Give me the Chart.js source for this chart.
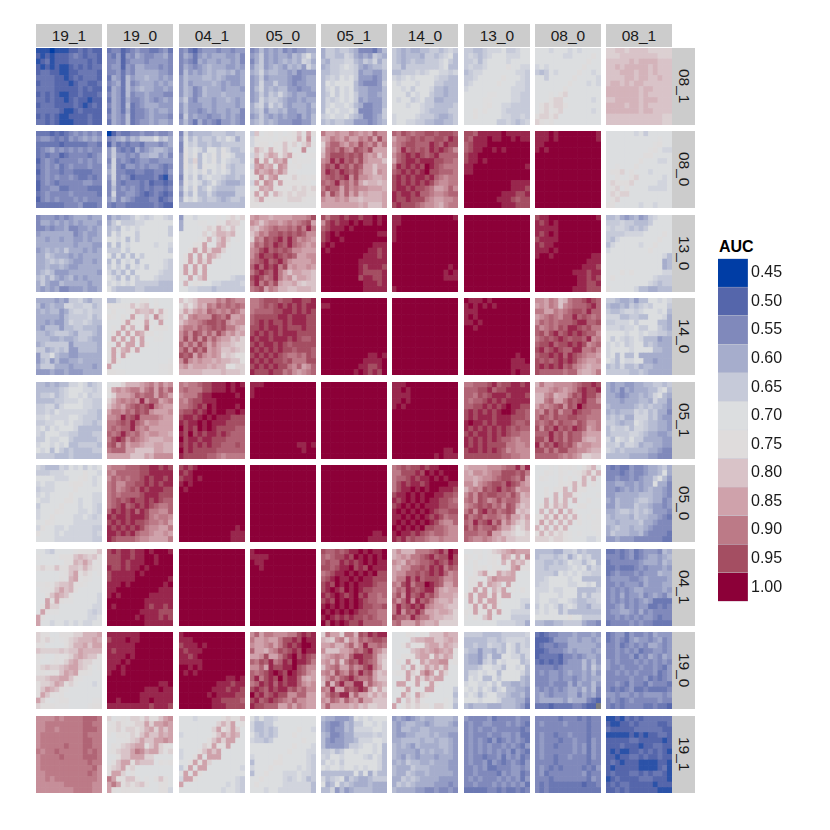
<!DOCTYPE html>
<html>
<head>
<meta charset="utf-8">
<script src="https://cdn.jsdelivr.net/npm/chart.js@4"></script>
<style>
  body { margin: 0; background: #fff; font-family: "Liberation Sans", sans-serif; }
  canvas { position: absolute; }
  .strip { position: absolute; background: #ccc; color: #1a1a1a; font-size: 15.5px; display: flex; align-items: center; justify-content: center; }
  .right { writing-mode: vertical-rl; }
  #auc { position: absolute; left: 719px; top: 238px; font-size: 16px; font-weight: bold; }
</style>
</head>
<body>
<div id="auc">AUC</div>
<script>
// column and row names of the facets
const columnNames = ['19_1', '19_0', '04_1', '05_0', '05_1', '14_0', '13_0', '08_0', '08_1'];
const rowNames = ['08_1', '08_0', '13_0', '14_0', '05_1', '05_0', '04_1', '19_0', '19_1'];
const legendBreaks = ['0.45', '0.50', '0.55', '0.60', '0.65', '0.70', '0.75', '0.80', '0.85', '0.90', '0.95', '1.00'];
const legendColors = ['#003da5', '#5566ab', '#8089bb', '#a6adcc', '#c6cad9', '#dcdee0', '#dfdcdc', '#d9c3c8', '#cfa2ab', '#bc7a87', '#a44e62', '#8c0038'];

// one letter per cell, top row first: a = 0.45, b = 0.475 ... w = 1.00, . = missing
const row_08_1 = [
"bbbabbbccdcdcc cbcbcccdedcddc bcdbcccddddcdc cbcbcbbcdcdcdd cddccbbccddddc ddddccbcdcdddc cdddcccbcddccd ddddcccccdcdcc cdcdcbbccdcccd ddcdccbcdccbcc cdddccccdcbcdc dddddcbbcdcccc cdcdcbbccccdcc ddcdcbbbcccdcc",
"deecdefeeddefd edfcfegfeeffge eefcefffeffffe effcfeggfffefe eefdfegggggffe dgfdhfgghggfgf efgdhefgggfgfg dgfdhfghggffgf egfdheffgfffee dgfdgeefgfefgf egfdhdefgggfff dgfdgdeefgfggf egfehdeefgfffe dgfehdeffgfggf",
"efdcefffeffeff egfdfgfgggffge efedgfggfggfge egfefghgggffgf ehfgfghghhghfg fhggghhghgfffg fhfgggghgfgffg fhgefhgggfgggf fhgefhggghgggg gifegggfgghgfg fhfffggfggggfg fhffefgfggfgge eifgffeffgfgfe fhfdgefedffgfe",
"efhfgfgefeffgg fgifgfggfhgikh egifgfghghgjig fhifghgfhghfjh ghjghhggfgefff fgifggggfeefgg fgjggiggfeffgg fhjghghhffeffg fgigihjhgfggff fgjhiihgffgfgg gijgjhigfgggfh ghifhhghffggfg fgigfgfgffegfh ghighgfffeeffh",
"giihiihgeeedfh giihhjigfgfihg hgiiijjhgihjgi ghiijkjigfghhi hhiijjjifggffh hijikjkifffefh hkjkkkkhfeeefi hjkikjkhggfffh hikikjkiggffgh hjijkjkifgfffh hjkjjkjhgeeffh hkjkjjkieeeffi ijkjjkihgeefgi hihiihhfffefgh",
"ihghgghhiihiji ihghhhgiihijkh ihghihhiiijkih iigiiiiiiijkhh hhiiijijkkjjij jijkjkkkkjiihh kjkkkjkkkiihhh kkjkikkkjhhghh kkkikjkkihhghh kjkkijkiigghhh kkkjkkjiihhhhi kkkkkkjihhhhii jkkkkjiiihgghi jkkjjiihhgghhi",
"iihhijjjkiijkk ijihijkkkjjjkk iijhjkkkkjkkkk ijiijkkkkmkkjj hijjkkkkkkkjji iijkkkkkmkkkji ijkkkkkmkkkjji jkkkkkkkkkjjji kkkkkllkkkjjii kkkkllkkkkjjii kkkklmkkjjiiii kkmkmkkkjiiiii kkmkkkkkjjiiji kkkkkkkiijihij",
"kkkjkkkjkjkkkk kkkkkkjjkkkkmk kkkkkkkkkkkmkk jkjkkkkkkkmkkk ihikjkkkkmkkjk kkikkkkkmkkkkj kkkkkkkmkkkjkj kkkkkkmkkkkkkk kkklkmnkkkkkkk kkkmnnkkkkkkjk kmnmnnmkkkkkkk kmnlmnkkkkkkjk mnnmnkkkkkkkkk nmlmkkkkkkkkkk",
"nnoonoooonnnnn nnnoooooooonnn ooooopoppppooo oopopppppopooo ooopppoppopooo ooooppoppoopoo oppopoppoooooo pppppppoppoooo pppppppopooooo oopppppopppooo ppppoppopooooo pppppppoppoooo oooooooooooonn oooooooooooonn"
];
const row_08_0 = [
"dddcdcdefefefe effededfefgfgf dddddcdddddeed defgefefefefee dedeecdeeeedef cefedeeeefefef defefdefeeefee cefeedeeddddee defefeefeddede cefedeeeeeffee ceeffddeeeeddd defeeeefeeeeed cefefeeefefeee ddddddeeefddde",
"aceddeefeefeef efghfhgiiikhig cfdedeedfffefg fiededgefghhgf fiffefegghhfge ejefedeffeefff fjedffefeffede gjeeddeeddeedf fjefecddddecbe eiedeeedecddcd ehefefededeede ejeeffedcdedcd fhegfedddeecde edeeddddddedcc",
"ejghhhhiiihhii fkhjhiihjikjgi ekijhhihhiiiii eljkjhkkiljhhi fmjlhkjlilkjhh fminhkjlikjiih fmjmhlkkjlihii fkjkjlikjkjhii ekikhjkjjihhih fljkjhikihgggh gkilhikihhhhii fjhkhhjhggggii gkjkihiihghiih hhhhhhhhhhhhhh",
"ioklmklklmolqm jmlllklmlmpmrk jlmmkmlolnknpl kpnlpmlomklrkk joloqpmoqmlkll krmqlqprkmlllk jqrpqlrqllmkkk krpqrprpllkkkk kmrnqrlmlnlmlm jqmrqmqmmmmllk kmqpqmlmlnmnmn lqmqlpnmnmnnmm mnqmmmmlnnnmll mmllllllllllll",
"sqqrqqsrqrqtrr pqsrqsqqsrtqur nrttrqsrusrtqs ostsusrutsuqqq psuuututurqroq rsvtvtusurqqqo sutvtusutqqoqq svutvutusqqorq stutuvrurrqppq tstvstrtqoppop suttqtrsrrqqqp tqusqtqspqpppq rqqrqrppoppppq qqqqqqqqpqoooq",
"tsutsttuutuuut qsstututtuutvu rstuutttvutvuu qsvtututvuvutr rtuvuvutuvtttt qtuvvuvvvuutts svuvuvuwvutsss tuvuvuvwuuttts uvuvuvvuvtsrss uvuvuvuvusrrss uvvuvuutsqqrtr vuvvuvttsrrstt vuuvuuusrqqrrs uvuuutsrrqprss",
"uutvvvvvwvvvvv utvvvwvvwwvwvv tuvvvwwwwwwwww tuvvwwvwvwwwww uvvwwwwwwwwwww uvvwvwwwwwwwww vvwwwwwwwwwwwv vvwwwwwwwwwwww wwwwwwwwwwwwww wwwwwwwwwwvvvv wwwwwwwwwwvvvu wwwwwwwwvvvuuv wwwwwwwvvvutuu wwwwwwwwvvvuuu",
"vvvwvwwwwwwwwv vvvwvwwwwwwwwv vvwwwwwwwwwwww vwvwwwwwwwwwww wwwwwwwwwwwwww wwwwwwwwwwwwww wwwwwwwwwwwwww wwwwwwwwwwwwww wwwwwwwwwwwwww wwwwwwwwwwwwww wwwwwwwwwwwwww wwwwwwwwwwwwww wwwwwwwwwwwwww wwwwwwwwwwwwww",
"kkkkkkjkikkkkk kkkkkkkkkkklkk kkkkkkkkkklmkk kkkkkkkkklmkjj kkkkkkkkmmkkkk kkkkkkkmkkkjjk kklkkkmkkkkkkk kmmnkmkkkjkkkk kkmkkmnkkkkkjk knmmmnkkkkkjjk kmnkmkkkkjjjjk knmnnkkkkkkkkk kmnkkkkkkkkkkk mmkkkkkjkkjkkk"
];
const row_13_0 = [
"efffefefgggfgg eggfgfgfgfgggf eefeffgeeffgfg fgggggggefgffg ggfggfggffgfgg ggggggggfgggff fghghgigggfgfg ggihgggfgfgggg gghihihgffggfg gghgghgffggggg ghihfffggggggf higigfghfgfggg gigffhgggggfgg gfgfgeefffgffg",
"fhghhikjijkkji gikiiijjkkkkkk hihkjkjkkkkkki hkikkkikkkkkki kkjkhkikkkkkkk hkhkjkkkkkjkkj iiikikkkkkkkki khkhkhkikkkkkk hkhkjkhkkkkkji ikikhkjkikkkji jhjhkhkkkkkjii kjhkhkikkkjiii jkjkjkiiiiihhh kihhhhiihhhhhh",
"fkkjkkkklkmnln gkkkllkkmlonnk gkkkklnmpnlolk kkkkknknppoplk kkkklmpkoqnklk kkkmmqkkpqmkkk kkmqmqnqqnkkkk kmqkqmqpnkkkkk kmqmqnqlkkkkkk kqkqmqkkkkkkkk lqmqlqkkkkkkkk mkqkoqkkkkkjii kpkmlkkjjiiiij kkjjiiihiiiiii",
"qrqqpqqqqrrrsu rqoqrrqrsrstuq poqrstsstsusvs oqsrttutututrr nsrutuvtvtrsrq qtsutvutvtsrqr rsuvtututrrqqq rtvuuvututqqrr stuvtuvtrqqqqr tvtvuvsuqrqqrq suvutvsqoqqppo uvustvsqroqqpo tvsusuqppqonoo stuqsrppoopppo",
"usuuvuvvuvvwvw ruvuvvwvwvvwvw tuvvvwvwwwwwww uvwvwwwwwwwwvv uvwwvwwwwwwwww vwvwwwwwwwwvvv wvwwwwwwwwvvuv wwwwwwwwwvvvuv wwwwwwwwvvvvvv wwwwwwwwvuvvvu wwwwwwwwvuuuuv wwwwwwwwuvvuuv wwwwwwwwwvvvuv wwwwwwwwwvvvvv",
"vvwwwwwwwwwwwv vvwwwwwwwwwwww vwwwwwwwwwwwww vwwwwwwwwwwwww vwwwwwwwwwwwww wwwwwwwwwwwwww wwwwwwwwwwwwww wwwwwwwwwwwwww wwwwwwwwwwwwww wwwwwwwwwwwwvw wwwwwwwwwwwvwv wwwwwwwwwwwvvv wwwwwwwwwwwwww vwwwwwwwwwwwww",
"wwwwwwwwwwwwww wwwwwwwwwwwwww wwwwwwwwwwwwww wwwwwwwwwwwwww wwwwwwwwwwwwww wwwwwwwwwwwwww wwwwwwwwwwwwww wwwwwwwwwwwwww wwwwwwwwwwwwww wwwwwwwwwwwwww wwwwwwwwwwwwww wwwwwwwwwwwwww wwwwwwwwwwwwww wwwwwwwwwwwwww",
"uvvwwwwwwwwwwv vuvwvwwwwwwwww vvvvvwwwwwwwww vuvwvwwwwwwwww uvvvvwwwwwwwww vuvvwwwwwwwwww vvvwvwwwwwwwww vwwvwwwwwwwwvv wwwwwwwwwwwvvv wwwwwwwwwwvvvu wwwwwwwwvvvuvv wwwwwwwwwvvuvu wwwwwwwwwvvuuv wwwwwwwwvvvuuu",
"hhigfghfgijkkk iiijiihhhikkkk jijjihihikkkkk iiiijjjjkkkkmk ihjkkkkkkkkmkk hjkkkkkjkkmkkk jkkkkkkkkmkkkk kkkkkkkkkkkkjh kkkkkkkkkkkkgh kkkkkkkkkkkkgh kkkmkmkkkkkkjj kmkkkkkkkkjiii kkkkkkkkkjihii mkkkkkjhhgghhh"
];
const row_14_0 = [
"ggggfgfiijhgii hfghggjjiijjhi ghghhfgijjijii gggggfhiiiijhi ggfgffhjiijihh gfhhhfhhiihhhg hhghiiihgiiihg hhhgghgghiihgg ghiiiiifhhhhhg iighihiffhhhhg fiikhggffggggg fhifhffgghgggg giiigggfggggfg fffgffgfffgggg",
"hhjkkkkmmklkkk mllllomnokmkkk kmkklmpoopmpmk mlkmkqmkokrnmk kkkmqmlmqmkqkk klkqmpkmrkmmmk kmqkqmqpmmklkk kqmqkqmqkkllkk mkqmqqkqmkkkkk lqmpqmqkkkkkkk lqkqmkkkkkkkkk mqmkkkkkkkkkkl qkkkkkkkkkkllm mmllkkkkkkkllm",
"omnoqqqqsrtsrr momoqpsrtststs nqoqrqtsrsrtsq pnrsrrrutsuqqr oqrrstuuturqrr qssrtstutussqp rtrutrtrusqrpq rurururtrqqopn trtrusqsqpponn surusuqrqoopon utuqtrqrqnonmm rurqrqqpqppoom qrpqqqpqppmlnn pppppoooopooon",
"sstuuutuuvvuuv sstutuvuvuvuvv sttttuuvvuvuvu tuuuuuvvuvvvuu tuvuvuuvuvvvuu uuvuvvuvuuuvuu uvuvuvuvvvuuuu vuvvuvvvuvuttu uvuvvuvutuuuuu vuvuvuvuutuuut uvuvuvutsstsut vuvuvuutusssuu uvuvuvuusrtqrt vuuuvuustrqrst",
"wwwwwwwwwwwwww vvwwwwwwwwwwww wwwwwwwwwwwwww wwwwwwwwwwwwww wwwwwwwwwwwwww wwwwwwwwwwwwww wwwwwwwwwwwwww wwwwwwwwwwwwww wwwwwwwwwwwwww wwwwwwwwwwwwww wwwwwwwwwwvvwv wwwwwwwwwvvvvw wwwwwwwwvvuuvw wwwwwwwvwvuvuw",
"wwwwwwwwwwwwww wwwwwwwwwwwwww wwwwwwwwwwwwww wwwwwwwwwwwwww wwwwwwwwwwwwww wwwwwwwwwwwwww wwwwwwwwwwwwww wwwwwwwwwwwwww wwwwwwwwwwwwww wwwwwwwwwwwwww wwwwwwwwwwwwww wwwwwwwwwwwwww wwwwwwwwwwwwww wwwwwwwwwwwwww",
"wvvvwvwwwwwwww vwvwvwvwwwwwww vvvwwwwwwwwwww vwvwwwwwwwwwww vvwvwwwwwwwwww wwvwwwwwwwwwww wwwwwwwwwwwwww wwwwwwwwwwwwww wwwwwwwwwwwwww wwwwwwwwwwwwww wwwwwwwwwwwvww wwwwwwwwwwvvvw wwwwwwwwwwvvvv wwwwwwwwwwvwvv",
"rrqsropsttuvut qrqsrorstttuvt ssqqsrstuutvtt qrstsrttvtutst rtststttuvvttu trstsutvvutuss tusuvtuvuvuttr stutuvutuutvrs tuuvtuuvuvurst uvtuvuttvvsstr tuuvuvtvutsrrq ututuvuvusrqqr uvuvuvtusrqpqq utttttsttqppqs",
"iihgghfhhkkjkj hgghgihijikkki ihhijjijkkkjkh jjjhhiihhkkkjg iijjjkikkkkhhg jjjijjkiikkihg kkkkjkkjkjjiih kikjijkjhhhfgg jkjkijkkhihggg jkkkkjkkkkhhgg jkhkhhkggggggg kjhkjjkkggfggg hihjhhighhgggg iiiiihhihggggg"
];
const row_05_1 = [
"hhghghhjjkjhij hhhhhijkkkjjij hiijhijkkjkijj hhhhiijjjkjjii iijjhjkkkkjjii iijikjjjjjjiih jjkjjjjkkjiiih iijjkkjkjjiihi jkikjkkkjhhhhh jikkkjjiihhhii iikjjkkihhhhhi jkkjkjkhhiiiih kjkhkihihhhhii iiiihhhihhhhhh",
"kllnpppqrsqsqr mqrqrssqstqtrt lnqqqrtsttqtsq nprsrsrvrttqrs oqrqstutuvsrqq qssrtsuturqqqr rrsvtuvssssrqq sstutvtsqrrqqq ststtvsrsqqqqq tstvtstrqrrqqp suvurtsrqpppqq turtqrrqppqqpp stttqqooooqqpp qqqqqoooqprrrr",
"srsstuuvvvwvwv stsssuuvvvwvww rsssuvvwwwwwvw srtuuvvvwwwwww sstuvuwvwwwwvw tuuvuvwvwwvvwv uvvuvwvwvvvuuu vuvvwvwvvvuuuu wuvuwvwvuuuutt vuwuvuvvuvuttt wuvvuvvuuutttt vuvuvuvuutttut wuvuuuuutttttt vuuuuuttsrssss",
"vvvwwwwwwwwwww vwwwwwwwwwwwww vwwwwwwwwwwwww wwwwwwwwwwwwww wwwwwwwwwwwwww wwwwwwwwwwwwww wwwwwwwwwwwwww wwwwwwwwwwwwww wwwwwwwwwwwwww wwwwwwwwwwwwww wwwwwwwwwwwwww wwwwwwwwwwvvwv wwwwwwwwwwwvww wwwwwwwwwwwwww",
"wwwwwwwwwwwwww wwwwwwwwwwwwww wwwwwwwwwwwwww wwwwwwwwwwwwww wwwwwwwwwwwwww wwwwwwwwwwwwww wwwwwwwwwwwwww wwwwwwwwwwwwww wwwwwwwwwwwwww wwwwwwwwwwwwww wwwwwwwwwwwwww wwwwwwwwwwwwww wwwwwwwwwwwwww wwwwwwwwwwwwww",
"vvvwwwwwwwwwww vvwvwwwwwwwwww vvvvwwwwwwwwww vvwvwwwwwwwwww vwvwwwwwwwwwww wwwwwwwwwwwwww wwwwwwwwwwwwww wwwwwwwwwwwwww wwwwwwwwwwwwww wwwwwwwwwwwwww wwwwwwwwwwwwww wwwwwwwwwwwwww wwwwwwwwwwwvvw wwwwwwwwwvwvvv",
"sstttuvtuuvvuv tttuuvtuuvvvvv ttsutuvvvuvvvu tsttuvuvuvvvvv ttuuvuvuvwvvuu uvuvuvuvwwvuut uvuvvvuvvvuuut vwvvuvuvvvuttu vuvuvuvuvututt uvuvvuvuvuttss vuvuvuvuttsrss vuvuvuuuussrrs uvvuvuvutrsrrr uuuuuuuuttssrr",
"psqqrrrrstuuvu qqqrsrqrsuvuuv pprspqqsutvuus ppstqqsutuvttr qsrsturutwuttt srusurttvuttss sutsuttuuttsss tstusuttsutrrs urutvtutvutqrs tttvtusuttrqqq uusvtusuttqppq vsutvutusqrrqq uususuussrrqpp tttttsrsrqnnoo",
"gfggffgghhiihi gfgegfggghhjkh ggfefgghghjkhg gggfggghhgjhhf hggggghihihhgf ghghhhjijhigge hihiggjjjhigff iihghhkjihhggf hjiijhjjihhggf hiiiijjihggffg jhkjikiiggggff iijhjjighhggff jihihhhhhggfee hhhhhggggffeee"
];
const row_05_0 = [
"jihhhjikjkikjk iiijjjkkkkmkkj kkkkjjjkklmkjk jkjjkkklmmkkjk ijjjkkkkmkkkkk jkjkkkkmkkkkjj kjjkkkmmkjkkjj ikkkkmkkkjkkji jkkkmlkkkjjkji jkkmkkkkjjkjij kkmlkkkkjjjjjj jmkkjjkjjjjjii mkkkjkjjjjjjij kkkkjjjjjjjjii",
"rssstttuuvvuvu srtttttuuvvvvv rtststtuvuvvuv strrttuuvuvuvv strstutvuvvvuu ststtttuvvvuuu stutuvuuvuvutt stuvtuvuvutsst tvuvuvtvussrrt vuvvuvvvusrssr uvuvuvuutssrsq vuvuvuvusrrqqs vvuvuvtssrqqrq vuttttsrrqqqqs",
"uvuvwwwwwwwwww vuvwwwwwwwwwww uvvwvwwwwwwwww vwvwwwwwwwwwww wvwwwwwwwwwwww wwwwwwwwwwwwww wwwwwwwwwwwwww wwwwwwwwwwwwww wwwwwwwwwwwwww wwwwwwwwwwwwww wwwwwwwwwwwwww wwwwwwwwwwwwvw wwwwwwwwwwwvvv wwwwwwwwwwwvvv",
"wwwwwwwwwwwwww wwwwwwwwwwwwww wwwwwwwwwwwwww wwwwwwwwwwwwww wwwwwwwwwwwwww wwwwwwwwwwwwww wwwwwwwwwwwwww wwwwwwwwwwwwww wwwwwwwwwwwwww wwwwwwwwwwwwww wwwwwwwwwwwwww wwwwwwwwwwwwww wwwwwwwwwwwwww wwwwwwwwwwwwww",
"wwwwwwwwwwwwww wwwwwwwwwwwwww wwwwwwwwwwwwww wwwwwwwwwwwwww wwwwwwwwwwwwww wwwwwwwwwwwwww wwwwwwwwwwwwww wwwwwwwwwwwwww wwwwwwwwwwwwww wwwwwwwwwwwwww wwwwwwwwwwwwww wwwwwwwwwwwwww wwwwwwwwwwwvvw wwwwwwwwwwvvvv",
"stutuuvuvvwwww ssuuuvuwvwvwww sttuvuvvwvwvww suvuvvuvwwwwvv suvvwvwvwwvvvu uvvwvwvwwvvuut vuvwvwvwvvuuts uvwvwvwvvvuutt vwvwvwvwvuttuu vvwvwvwvuvustt vwvwvwvwvusrrt wvwvwvwuuttsrr vwvvuvutsttsrr vuvtuttsrrsrrr",
"pqqqqrrrsttvsv qprrqrssuuutus qqpqrrstuutsuq rrprstuutvutrq prsrutuvtutqrr rtrutuuttsuspq strutrsusttspp rstutustrutqop suruvtustutopo ustusttsrtqqoq tsvtuvsuqsqonp ususttusqqomnp tttssuqqoonlmn tsrrsrqpqoonnn",
"kkklkmlmlkmnpk kkmlkmlklmnpmp kmlkkmkmklplpk kkkkkmlmpmpkmk kkmkmmpkpmmkkk kkmkpkppmlkkkl kkpkpmpkpkkmkk kmpmpnpkkmmkkk kpkpkqkpmkkkll mmpmqmplplklkl lqmpkplpkmkkll plpkpmpkkkkkll mpmomnmlklkkkl nnnmnnmlkkkjjk",
"ededdfeefgghig eeedefeefgghkg eefeefefggikhf ffggffgfggkgge ffefgfgfghggfe ffggggghhhggfe gfhggghiihggef ffhgggihhgffef gghiihihihfffe hghhhgihhggfed hhghhhhiggfeee ghihhghhgfeeee gihhhgghfeeeed ffgfffeeeeeedd"
];
const row_04_1 = [
"kkjikkkklmmmmo lkkkkmmmoponom kkkkkkmmpoqolm mnmmommoonpnml kkkkklmoqmnmkl kkkkkmlpqlmlkk llmlnoopmmlkkk kllmoqopmkkkkk kkmoqpolkkkkkj kkqmqmllkkkkkj kmqnnkkkkkkkjj kqmllkkkkkkjij qmkkkkkkkkkjjk qkkjkkjkjkjjkk",
"uvuvvuvvwvwwwv uuuvvuvvwwvwww uuuvuvvvwwvwww vuuvuvvwvwwwww uvvvvvwvwwwwww uvvvvvwwwwwwwv vvvwvwwwwwwwvw vvwwwwwwwwwvvv vwvwwwwwwvvvvv wwwwwwwwvvvvvv wvwwwwwwvuvvuv wwwwwwwvvvvuuu wwwwwwvwvvvuvu wwwwwwwwvvvvvv",
"wwwwwwwwwwwwww wwwwwwwwwwwwww wwwwwwwwwwwwww wwwwwwwwwwwwww wwwwwwwwwwwwww wwwwwwwwwwwwww wwwwwwwwwwwwww wwwwwwwwwwwwww wwwwwwwwwwwwww wwwwwwwwwwwwww wwwwwwwwwwwwww wwwwwwwwwwwwww wwwwwwwwwwwwww wwwwwwwwwwwwww",
"vwwwwwwwwwwwww vvvvwwwwwwwwww wvvwwwwwwwwwww wwvwwwwwwwwwww wwwwwwwwwwwwww wwwwwwwwwwwwww wwwwwwwwwwwwww wwwwwwwwwwwwww wwwwwwwwwwwwww wwwwwwwwwwwwww wwwwwwwwwwwwww wwwwwwwwwwwwww wwwwwwwwwwwwww wwwwwwwwwwwwww",
"uttutuvvwvwvvw tstuuvuwvwvwvw tuttvuvuvwvwvv uutuvvwuvuwvvv stuvvwvwvwvwuu tuvwvvwvwvvuuu uvuwvwvwvvvutt uvwvuwvwvuuttt vuvwvuvwuvttst uvuwvwvwvuttss vwvwvwvwvuuttu wvwvwvwvuuttss vwvuvuvuututss wuwvwvuuvtttts",
"prpppssstuvtwv pqrqsstuvtuuwu rqpsrsttuvutvu qprrttutvuvsut qrrttutuvuvtrs qssvtvtuuutrrs sruvsuuwvutqqs rtsvutuvvsqpqq survtuvtusqqqp trtvrvtusqppqo svtuvuvsrqqpoo svrutvtqqpqqpn uttsvtssqppoon stqqqsqppqnnnn",
"kkllklnopqrqqq mlkmklmlqpmqmr lkmkklmkpmqopm kkmlmkmmkmqrmm lkmoqmmqopqkkk kmmklprqqqqkkk kmmqlqpokqlkkk kmqmqkpnqklkmk mqlqqmqmqqkkkk kqmqmqqmkkkkjj kmqlqmqlkkkkjh mlqmlqlqkkjjjj lkmkoqkkkkiiii kkkkkkkjjjjiig",
"hhhhggiijhihhh hiiihijgikijhh iihhihikjjhjkh iihiiiijkjkhji iiiihkjkjkjjii iijkkkkjkkhhhh ijjkkkkjjkkjkh jjjkjjkkkhhhhi jkkkkjkkkhjhjj jkkjjkkjihhiij ikjkjhjkjhhgii jkjkkhjhhhhhhh kkkkkkkmkkiiii hhgghhiiiigffe",
"ddedefdefffehg eeedefdefggfgh deeeeeefgggfhg ddedddefefffgf defeeefefffhgg effffeefgffffg eefefffegfffgg efefefggffffgf efegeffgefgfeg efefefefgfdddd eefgefeffddede effggfegefeeee eefefefeffedee deeeefefeedddd"
];
const row_19_0 = [
"nmmkkmmmnnpppq nmnlklmnopppqp mmkkkkmnppqoqq onnnnonooqpppp mlkkmlmnpqpoom lkklmlnpqonnll mnonnopqqonmkl lmlmmoqpqmmlkk nnoppqqomlkkkk mnnoqpmnlkkkjk moqpomlkkkkkkk mqomlmkkkkkkkk qnlklmmkkkkkll nmmmlllkkkklmm",
"vvvvvvvwwwwwww uvvvwvvwwwwwww vvvvvvwwwwwwww vuvvvvwwwwwwww vvvvwvwwwwwwww vvvwvwwwwwwwww vvwvwwwwwwwwww vwwvwwwwwwwwww wwwwwwwwwwwwww wwwwwwwwwwwvvw wwwwwwwwvvvwvv wwwwwwwvvvvvvv wwvwwwwvvwvvvv vvvvvvvvvuvvvu",
"vwwwwwwwwwwwww vvvwwwwwwwwwww uvvvwvwwwwwwww vuvvvwwwwwwwww vvuvwwwwwwwwww vvvvvwwwwwwwww wwvwvwwwwwwwww wvwvwwwwwwwwww wwwwwwwwwwvvwv wwwwwwwwvvvuvv wwwwwwwvvvuvvu wwwwwwvwvvvvuu wwwwwwwvvuuuut wwwwwwwvvvuuuu",
"rtqssrrrssuvuv sqqrqqsuuvuwvv rqqrsqsuvuvwwv tqqprsutuvuwvv qqruqqsuvwuvut tsutvstvuwvvus rrtqvuuvvwutrr tstuvwvuwvutrq tvsuvuwuvvtqpq stvuvtvuvvtrqr uvutvuvvtustrr wuvtuvuurrttqq uvtuvutsrtrrqq vuutttqqsqsrqq",
"nsqqnssputvuvv ponrsorqtstuut qqrpprtqsvssts roooqqrtsuvsrp pqrsrqtvvuuspo qrpsosutvutspn orstqqtrsuvsqn rsqusrusvtuqop prtrtuvtsstqoo ouptvssvvqtrqp srvqqutuvuqnqn qsutvvqtqqoqop rqtsqtrqtqqooo qtqqqqpqopnnoo",
"kkkmlkmloooqpp kkkkoppqqoopqp kkmolmmpqqoqpo kkkkopqpqrqpqm kkmmmpqqmqoqpl kmkqmkqoqqrrlm kkokqmnqoqnqkk lmlqnmqsqlqnkk kklqmqnqoqqkkk kqqkmqkmqmkkkk kkmqkmkqqkkkki kkqnkqnmkkkkkh kqkomolkkkklki qkmnmnmmknnlkh",
"iiiihhhhiiiiij hhhhhiihijjjji hhihhjiihkjhji ihhfhhgihkjhjj hggfhjggkkjjhj hggfijhkjkkkhi hhhikkjjhkkjkh hjjkjkkhkkkkjh hkjkhhkikkkkhg jkkjjkikhhgghg kjkikjhjkhhggf jkjhjkkiihgghf kkkjkkkjhhhgge hghhhggghhhgfd",
"dcdeefffgfffgf cccdfffggfggfg cdeedeeggggggf ccdeeefgfgggfg cddddceefefggf dcdcdcefffhfhf eeeedeffffhfig efeffefgffgfhf eeeffeffefgfgg eeefeeegegffhf fefefefggfhfhe fgfefffggegfge fgggggfhgggedc dddcddddeedcc.",
"deffdfeefegfff defedfgffefgef eefdefefeggfef eefefefdeeffef eefeefdfegfegf fefeeefefefefe feefeeefeefedf eefefefeeefdef eeeeefeefdedef eefedfeedfeeed ededefddedddde ffeffefeffffef efedefeeeeefee ededeeeeddeddc"
];
const row_19_1 = [
"rrrrsrssssttts rrssssssssttss rrssrsssssttts rssssssssstsss rsssssssssttss rssssstsssttss srsstssssststs rsssstssssttts rsssssssssstss rssssssssssstr rrssssssssstsr rrsrsssssssssr rrrrrrssssssrr rrrrrrrrssssrr",
"nklmlnnmommoqr lmnmlmnnqnqqrq mmnlnnmnpqnqoq lkmmlnmoqooqpq kkllmnoqooqqrq kmlnopqqmoqnml lmnooqsrpqqnln kkmooqqqnnkkkk kmoqqmpoookmlm mnoqmnkkkkkkkk lqqnkmkkkkkkkk sqmmoomklkmomk qsqmnmnomkkmmk qmlmmmmkkkkmmj",
"kkkjkkkkkmnmmo kkkkkkkknpnqkm kkkkkkknqmnqnk jkkkkkkmoqoqpk kkkkkkmoqnqqkk kkkkknmqmmqkkk jkkkmoqoqkkkkk jkkmqkqqqkkkkk kkmqmqnkkkkkkk ikqkqqkkkkkkkj kqkqmkkkkkkkkk jqqmkkkkkkkkji qkkkkkkkkkjkji kkkkkkkkkjkkji",
"kikiijkkkkkkkk jhhiikkkkkkkkk jhhihikkkkmkkj kihihikkkmkkkk jiihikkkkkkmkk kkkkkkkkkmkkkj kkkkkkkkmkkkjj jkkkkkmkkkkkji hkkkkmmkkkkkji jkkkmkkkkkjkji hkkmkkkjjjkjji kkmkkkkjijkjhi kmkkkkkjjjjjjh kkkjkkjjjjjjjh",
"hggfffgkjkjkkk gfeefhgiikkjkj gfeffhgjjjjkkj hgeefggiiiijij hfeffgghjjjkkj hffffgiijkkjkh iijhikkjkkkjkh jikkjkkkkjikjh ikjkikkkkkkkjh kjkkjkkjkjkkjh hhhhhhhkhkgjhh jhijkgihgghiii kghkhihggghggg hhjfhfghhhhggg",
"fgfefghgghhhhg gfghhggfghhhgf gfhhgghhgggggg gffgghhhghggff gghhhhghhghhgf hghgfhgggghhgf hggggfhghgghgf hgfhgfgggfgggf ghgihhgghgggff hgggihhhggggff hggihgghgggggf ggihihggggffff gihihggggfffef hggggffeefeefe",
"feeeefdeeeefee efeeffeeefefed efefeefeeeeede efeeefeeffefdd efefedfdefefed efefefeefefedf efefefefefdfed efeedeefdfefde efeefdfedefedf eefefddeeeffef eefeeeedfeffde efefeeefefefdf eefeeefefefefd dddddeededdede",
"eeeeedeeededee efeeeefeeeedee eeeeeeeeeeedee efeedeefeeedee efeeedeefeedfe efeedeeefefdfe efeeeeeefefdfe efeedeefeeedfe eeeedeeeeeedee efededeeeededf efdeeeeeeefdee eeedeeeeeeedfe ededddddddcdde ededdddddddddd",
"bbcbdcdcdddddd cbbccdcddddccd dcccccddddddcc bbbbbcbcbccddc cccccddcccccbc cccdcccbccddcc cbcbbccdcdcdcb ccbccddcdccdcc cdcbcccbbbbccb cbcccccbbbbcdb cdcccddcdcddcb bcdccccdddcccb cdcddcccccbccc ccdcdccccccbbb"
];
const panelRows = [row_08_1, row_08_0, row_13_0, row_14_0, row_05_1, row_05_0, row_04_1, row_19_0, row_19_1];

const columnLeft = [36, 107, 179, 250, 321, 392, 464, 535, 606];
const rowTop = [48, 131, 215, 298, 382, 465, 549, 632, 716];
const cellsPerSide = 14;
const cellIndex = Array.from({ length: cellsPerSide }, (_, i) => i + 1);

function hexToRgb(hex) {
  return [1, 3, 5].map(i => parseInt(hex.slice(i, i + 2), 16));
}

// letter -> AUC -> colour, between the legend colours
function cellColor(letter) {
  if (letter === '.') return '#7f7f7f';
  const step = (letter.charCodeAt(0) - 97) / 2;
  const low = Math.floor(step);
  const high = Math.min(low + 1, legendColors.length - 1);
  const a = hexToRgb(legendColors[low]);
  const b = hexToRgb(legendColors[high]);
  const t = step - low;
  return 'rgb(' + a.map((v, i) => Math.round(v + (b[i] - v) * t)).join(',') + ')';
}

function addCanvas(left, top, width, height) {
  const canvas = document.createElement('canvas');
  canvas.width = width;
  canvas.height = height;
  canvas.style.left = left + 'px';
  canvas.style.top = top + 'px';
  document.body.appendChild(canvas);
  return canvas;
}

function addStrip(text, left, top, width, height, extra) {
  const div = document.createElement('div');
  div.className = 'strip ' + (extra || '');
  div.textContent = text;
  div.style.cssText = `left:${left}px;top:${top}px;width:${width}px;height:${height}px`;
  document.body.appendChild(div);
}

function drawPanel(panel, left, top) {
  const rows = panel.split(' ');
  // the stack grows upward, so the bottom row comes first
  const datasets = rows.slice().reverse().map(row => ({
    data: cellIndex.map(() => 1),
    backgroundColor: row.split('').map(cellColor),
    borderWidth: 0,
    barPercentage: 1,
    categoryPercentage: 1
  }));
  new Chart(addCanvas(left, top, 66, 77), {
    type: 'bar',
    data: { labels: cellIndex, datasets },
    options: {
      responsive: false,
      animation: false,
      events: [],
      layout: { padding: 0 },
      plugins: { legend: { display: false }, tooltip: { enabled: false } },
      scales: {
        x: { stacked: true, display: false },
        y: { stacked: true, display: false, min: 0, max: cellsPerSide }
      }
    }
  });
}

panelRows.forEach((panels, r) => {
  panels.forEach((panel, c) => drawPanel(panel, columnLeft[c], rowTop[r]));
});

columnNames.forEach((name, c) => addStrip(name, columnLeft[c], 24, 66, 23));
rowNames.forEach((name, r) => addStrip(name, 672, rowTop[r], 23, 77, 'right'));

// legend: one bar per break, labels on the right
new Chart(addCanvas(718, 246, 72, 368), {
  type: 'bar',
  data: {
    labels: legendBreaks,
    datasets: [{
      data: legendBreaks.map(() => 1),
      backgroundColor: legendColors,
      borderColor: '#ccced8',
      borderWidth: 0.5,
      barPercentage: 1,
      categoryPercentage: 1
    }]
  },
  options: {
    indexAxis: 'y',
    responsive: false,
    animation: false,
    events: [],
    layout: { padding: 0 },
    plugins: { legend: { display: false }, tooltip: { enabled: false } },
    scales: {
      x: { display: false, min: 0, max: 1 },
      y: {
        position: 'right',
        afterFit(scale) { scale.width = 42; },
        grid: { display: false, drawTicks: false },
        border: { display: false },
        ticks: { color: '#1a1a1a', padding: 3, autoSkip: false, font: { family: 'Liberation Sans', size: 16 } }
      }
    }
  }
});
</script>
</body>
</html>
